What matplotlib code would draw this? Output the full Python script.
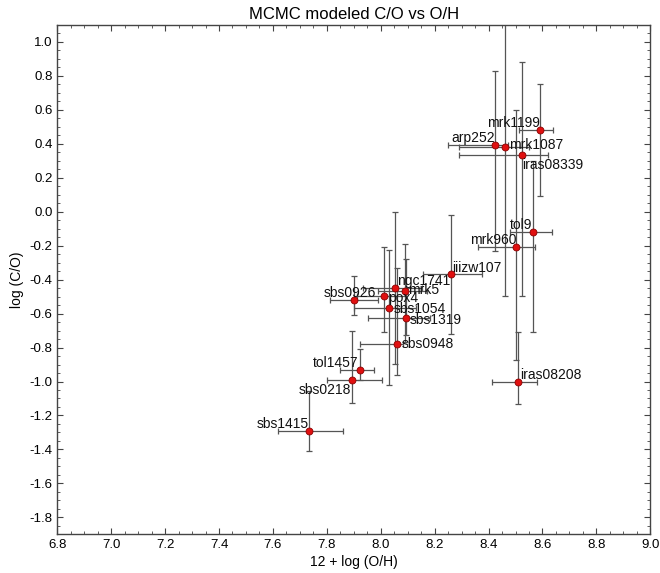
import matplotlib
matplotlib.use("Agg")
import matplotlib.pyplot as plt
from matplotlib.ticker import MultipleLocator, FormatStrFormatter

plt.rcParams['font.family'] = ['Liberation Sans', 'DejaVu Sans']

names = ["mrk1199", "arp252", "mrk1087", "iras08339", "tol9", "mrk960",
         "iras08208", "iiizw107", "ngc1741", "mrk5", "pox4", "sbs0926",
         "sbs1054", "sbs1319", "sbs0948", "tol1457", "sbs0218", "sbs1415"]
oh = [8.591, 8.423, 8.461, 8.523, 8.563, 8.502,
      8.511, 8.261, 8.054, 8.091, 8.013, 7.902,
      8.032, 8.093, 8.062, 7.923, 7.895, 7.734]
oh_lo = [0.078, 0.172, 0.17, 0.231, 0.083, 0.14,
         0.099, 0.105, 0.12, 0.10, 0.10, 0.09,
         0.13, 0.14, 0.14, 0.074, 0.095, 0.114]
oh_hi = [0.048, 0.05, 0.09, 0.099, 0.072, 0.071,
         0.07, 0.114, 0.10, 0.08, 0.08, 0.089,
         0.10, 0.09, 0.02, 0.052, 0.109, 0.127]
co = [0.484, 0.395, 0.383, 0.332, -0.117, -0.206,
      -1.0, -0.369, -0.449, -0.469, -0.498, -0.519,
      -0.567, -0.628, -0.779, -0.930, -0.991, -1.291]
co_lo = [0.393, 0.628, 0.88, 0.83, 0.59, 0.665,
         0.132, 0.351, 0.45, 0.30, 0.212, 0.087,
         0.451, 0.10, 0.18, 0.06, 0.135, 0.12]
co_hi = [0.266, 0.436, 0.9, 0.55, 0.414, 0.803,
         0.294, 0.352, 0.45, 0.28, 0.291, 0.139,
         0.344, 0.35, 0.45, 0.12, 0.29, 0.233]

# label placement (offset in points, ha, va)
label_pos = {
    "mrk1199": ((0, 2), "right", "baseline"),
    "arp252": ((0, 2), "right", "baseline"),
    "mrk1087": ((3, 1), "left", "center"),
    "iras08339": ((0, -2), "left", "top"),
    "tol9": ((0, 2), "right", "baseline"),
    "mrk960": ((0, 2), "right", "baseline"),
    "iras08208": ((1, 2), "left", "baseline"),
    "iiizw107": ((1, 2), "left", "baseline"),
    "ngc1741": ((1, 2), "left", "baseline"),
    "mrk5": ((2, 1), "left", "center"),
    "pox4": ((3, -1), "left", "center"),
    "sbs0926": ((-3, 2), "center", "baseline"),
    "sbs1054": ((3, -1), "left", "center"),
    "sbs1319": ((3, -1), "left", "center"),
    "sbs0948": ((3, 0), "left", "center"),
    "tol1457": ((-1, 2), "right", "baseline"),
    "sbs0218": ((-1, -2), "right", "top"),
    "sbs1415": ((0, 2), "right", "baseline"),
}

fig = plt.figure(figsize=(6.6, 5.73), dpi=100)
ax = fig.add_axes([0.0868, 0.0675, 0.8985, 0.889])

ax.errorbar(oh, co, xerr=[oh_lo, oh_hi], yerr=[co_lo, co_hi], fmt='none',
            ecolor='#555555', elinewidth=0.9, capsize=2.2, capthick=0.9, zorder=2)
ax.plot(oh, co, 'o', color='#e01010', markeredgecolor='#8a0000',
        markeredgewidth=0.6, markersize=5, zorder=3)

for n, x, y in zip(names, oh, co):
    off, ha, va = label_pos[n]
    ax.annotate(n, (x, y), xytext=off, textcoords='offset points',
                ha=ha, va=va, fontsize=10, color='#111111', zorder=4)

ax.set_xlim(6.8, 9.0)
ax.set_ylim(-1.9, 1.1)
ax.xaxis.set_major_locator(MultipleLocator(0.2))
ax.xaxis.set_minor_locator(MultipleLocator(0.05))
ax.yaxis.set_major_locator(MultipleLocator(0.2))
ax.yaxis.set_minor_locator(MultipleLocator(0.05))
ax.xaxis.set_major_formatter(FormatStrFormatter('%.1f'))
ax.yaxis.set_major_formatter(FormatStrFormatter('%.1f'))
ax.tick_params(which='both', direction='in', top=True, right=True,
               labelsize=9.5, color='#444444')
ax.tick_params(which='major', length=4, width=0.8)
ax.tick_params(which='minor', length=2, width=0.6)
for s in ax.spines.values():
    s.set_color('#444444')
    s.set_linewidth(1.0)

ax.set_title("MCMC modeled C/O vs O/H", fontsize=12, pad=4)
ax.set_xlabel("12 + log (O/H)", fontsize=10, labelpad=3)
ax.set_ylabel("log (C/O)", fontsize=10, labelpad=4)

fig.savefig("out.png", dpi=100)
